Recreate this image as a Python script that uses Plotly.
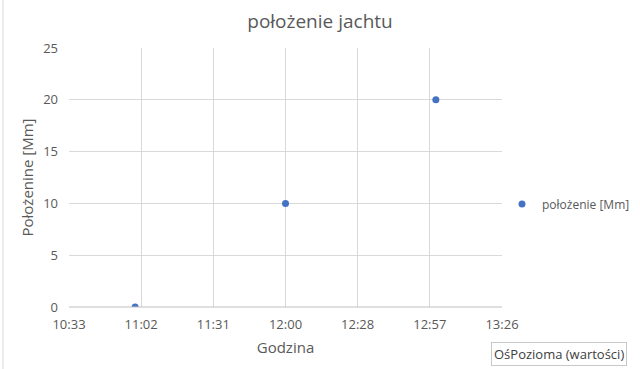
import plotly.graph_objects as go

times = ["11:00", "12:00", "13:00"]
positions = [0, 10, 20]
series_name = "położenie [Mm]"
x_tick_vals = [0.44, 0.46, 0.48, 0.50, 0.52, 0.54, 0.56]
x_tick_labels = ["10:33", "11:02", "11:31", "12:00", "12:28", "12:57", "13:26"]
y_tick_vals = [0, 5, 10, 15, 20, 25]

def to_day_fraction(t):
    h, m = t.split(":")
    return (int(h) * 60 + int(m)) / 1440.0

xs = [to_day_fraction(t) for t in times]

FONT = "Open Sans"
GRAY = "#595959"
L, R, T, B = 69, 138, 48, 62
PW, PH = 640 - L - R, 369 - T - B

fig = go.Figure()
fig.add_trace(go.Scatter(
    x=xs, y=positions, mode="markers", name=series_name,
    marker=dict(color="#4472C4", size=7),
))

fig.update_layout(
    width=640, height=369,
    margin=dict(l=L, r=R, t=T, b=B, autoexpand=False),
    paper_bgcolor="white", plot_bgcolor="white",
    font=dict(family=FONT, color=GRAY, size=13),
    title=dict(text="położenie jachtu", x=0.5, xanchor="center", y=1 - 21 / 369, yanchor="middle",
               font=dict(size=19, color=GRAY, family=FONT)),
    showlegend=True,
    legend=dict(x=(502 - L) / PW, xanchor="left", y=(307 - 204) / PH, yanchor="middle",
                font=dict(size=12, color=GRAY, family=FONT), itemwidth=30,
                bgcolor="rgba(0,0,0,0)"),
    xaxis=dict(
        range=[0.44, 0.56], tickmode="array", tickvals=x_tick_vals, ticktext=x_tick_labels,
        showgrid=True, gridcolor="#D9D9D9", gridwidth=1, zeroline=False,
        showline=False, ticks="", ticklabelstandoff=8, tickfont=dict(size=13, color=GRAY),
        title=dict(text="Godzina", font=dict(size=15, color=GRAY), standoff=10),
    ),
    yaxis=dict(
        range=[0, 25], tickmode="array", tickvals=y_tick_vals,
        showgrid=True, gridcolor="#D9D9D9", gridwidth=1, zeroline=False,
        showline=False, ticks="", ticklabelstandoff=10, tickfont=dict(size=13, color=GRAY),
        title=dict(text="Położenine [Mm]", font=dict(size=15, color=GRAY), standoff=5),
    ),
    shapes=[
        dict(type="line", xref="paper", yref="paper", x0=0, x1=1, y0=0, y1=0,
             line=dict(color="#BFBFBF", width=1)),
        dict(type="line", xref="paper", yref="paper", x0=-(L - 3) / PW, x1=-(L - 3) / PW,
             y0=-B / PH, y1=1 + T / PH, line=dict(color="#D9D9D9", width=1)),
    ],
    annotations=[
        dict(text="OśPozioma (wartości)", xref="paper", yref="paper",
             x=(491 - L) / PW, y=-(354 - 307) / PH, xanchor="left", yanchor="middle",
             showarrow=False, bgcolor="white", bordercolor="#C8C8C8", borderwidth=1, borderpad=2,
             font=dict(size=13, color="#404040", family=FONT)),
    ],
)

fig.write_html("out.html", config={"displayModeBar": False},
               post_script="document.body.style.margin='0';document.body.style.overflow='hidden';")
